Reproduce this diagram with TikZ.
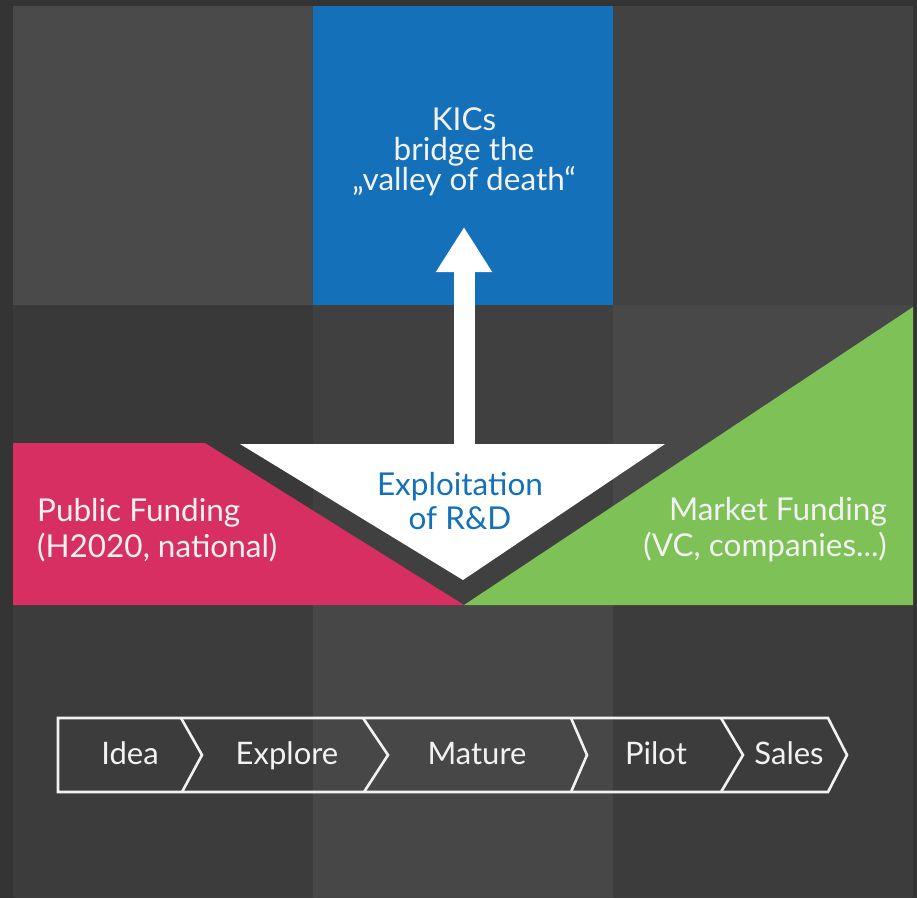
\documentclass[tikz,border=0pt]{standalone}
\usepackage{fontspec}
\setmainfont{Lato}
\usetikzlibrary{arrows.meta}
\definecolor{outerC}{HTML}{343434}
\definecolor{cellA}{HTML}{4A4A4A}
\definecolor{cellB}{HTML}{424242}
\definecolor{cellC}{HTML}{393939}
\definecolor{cellD}{HTML}{404040}
\definecolor{cellE}{HTML}{484848}
\definecolor{cellF}{HTML}{3C3C3C}
\definecolor{cellG}{HTML}{474747}
\definecolor{kicblue}{HTML}{1470B8}
\definecolor{pubpink}{HTML}{D82F62}
\definecolor{mktgreen}{HTML}{7DC157}
\definecolor{txtC}{HTML}{F2F2F2}
\tikzset{
  cell/.style={anchor=north west, inner sep=0, outer sep=0, minimum width=300pt},
  bigtext/.style={font=\fontsize{31.5}{29.5}\selectfont, text=txtC, align=center, inner sep=0},
  fundtext/.style={font=\fontsize{31.5}{36}\selectfont, text=txtC, inner sep=0},
  stagetext/.style={font=\fontsize{31}{31}\selectfont, text=txtC, inner sep=0, anchor=base},
  chevline/.style={draw=txtC, line width=2.6pt, line join=miter},
}
\begin{document}
\begin{tikzpicture}[x=1pt, y=-1pt]
\useasboundingbox (0,0) rectangle (917,898);
\fill[outerC] (0,0) rectangle (917,898);
% grid cells
\fill[cellA] (13,6) rectangle (313,305);
\fill[cellB] (613,6) rectangle (913,305);
\fill[cellC] (13,305) rectangle (313,605);
\fill[cellD] (313,305) rectangle (613,605);
\fill[cellE] (613,305) rectangle (913,605);
\fill[cellF] (13,605) rectangle (313,898);
\fill[cellG] (313,605) rectangle (613,898);
\fill[cellF] (613,605) rectangle (913,898);
% KIC box
\node[cell, fill=kicblue, minimum height=299pt] (kic) at (313,6) {};
\node[bigtext] (kictext) at (464,152) {KICs\\bridge the\\„valley of death“};
% funding shapes
\coordinate (pubA) at (13,443);
\coordinate (pubB) at (205,443);
\coordinate (vtip) at (464,605);
\coordinate (pubD) at (13,605);
\fill[pubpink] (pubA) -- (pubB) -- (vtip) -- (pubD) -- cycle;
\coordinate (mktA) at (913,307);
\coordinate (mktB) at (913,605);
\fill[mktgreen] (mktA) -- (mktB) -- (vtip) -- cycle;
% white triangle
\coordinate (triL) at (240,444);
\coordinate (triR) at (665,444);
\coordinate (triT) at (463,580);
\fill[white] (triL) -- (triR) -- (triT) -- cycle;
\coordinate (arrowStart) at (464,446);
\coordinate (arrowTip) at (464,227);
\draw[white, line width=21pt, -{Triangle[width=53pt, length=45pt]}] (arrowStart) -- (arrowTip);
\node[font=\fontsize{31.5}{34}\selectfont, text=kicblue, align=center, inner sep=0] (expl) at (460,501) {Exploitation\\of R\&D};
\node[fundtext, anchor=west, align=left] (pub) at (37,530) {Public Funding\\(H2020, national)};
\node[fundtext, anchor=east, align=right] (mkt) at (887,530) {Market Funding\\(VC, companies...)};
% stage chevrons
\coordinate (bL1) at (58,718);
\coordinate (bL2) at (58,792);
\coordinate (e1) at (828,718);
\coordinate (e2) at (847,755);
\coordinate (e3) at (828,792);
\draw[chevline] (bL1) -- (e1) -- (e2) -- (e3) -- (bL2) -- cycle;
\coordinate (s1a) at (181,718); \coordinate (s1b) at (202,755); \coordinate (s1c) at (182,792);
\coordinate (s2a) at (363,718); \coordinate (s2b) at (388,755); \coordinate (s2c) at (364,792);
\coordinate (s3a) at (571,718); \coordinate (s3b) at (587,755); \coordinate (s3c) at (571,792);
\coordinate (s4a) at (721,718); \coordinate (s4b) at (743,755); \coordinate (s4c) at (721,792);
\draw[chevline] (s1a) -- (s1b) -- (s1c);
\draw[chevline] (s2a) -- (s2b) -- (s2c);
\draw[chevline] (s3a) -- (s3b) -- (s3c);
\draw[chevline] (s4a) -- (s4b) -- (s4c);
\node[stagetext] (idea) at (130,764) {Idea};
\node[stagetext] (explore) at (287,764) {Explore};
\node[stagetext] (mature) at (477,764) {Mature};
\node[stagetext] (pilot) at (656,764) {Pilot};
\node[stagetext] (sales) at (789,764) {Sales};
\end{tikzpicture}
\end{document}
